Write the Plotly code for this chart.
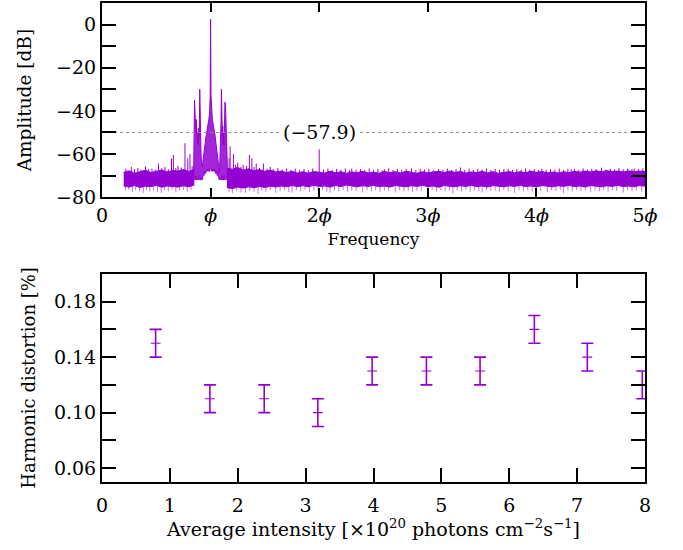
import plotly.graph_objects as go
from plotly.subplots import make_subplots

PURPLE = "rgb(148,0,211)"
PURPLE_LIGHT = "rgba(148,0,211,0.55)"
FONT = "DejaVu Serif"

# ---------------- Top panel: spectrum (frequency in units of phi, amplitude in dB)
floor_left_x = [0.20, 0.25, 0.30, 0.35, 0.40, 0.45, 0.50, 0.55, 0.60, 0.65, 0.70, 0.75, 0.80, 0.85]
floor_left_hi = [-68.5, -67.8, -68.9, -68.2, -67.5, -68.6, -68.0, -67.4, -68.3, -67.6, -67.9, -67.2, -68.1, -67.0]
floor_left_lo = [-74.8, -75.3, -74.6, -75.5, -74.9, -75.1, -74.5, -75.4, -74.8, -75.0, -75.3, -74.7, -75.2, -74.3]

floor_right_x = [1.15, 1.20, 1.25, 1.30, 1.35, 1.40, 1.45, 1.50, 1.55, 1.60,
                 1.65, 1.70, 1.75, 1.80, 1.85, 1.90, 1.95, 2.00, 2.05, 2.10,
                 2.15, 2.20, 2.25, 2.30, 2.35, 2.40, 2.45, 2.50, 2.55, 2.60,
                 2.65, 2.70, 2.75, 2.80, 2.85, 2.90, 2.95, 3.00, 3.05, 3.10,
                 3.15, 3.20, 3.25, 3.30, 3.35, 3.40, 3.45, 3.50, 3.55, 3.60,
                 3.65, 3.70, 3.75, 3.80, 3.85, 3.90, 3.95, 4.00, 4.05, 4.10,
                 4.15, 4.20, 4.25, 4.30, 4.35, 4.40, 4.45, 4.50, 4.55, 4.60,
                 4.65, 4.70, 4.75, 4.80, 4.85, 4.90, 4.95, 5.00]
floor_right_hi = [-66.5, -67.0, -66.2, -67.5, -66.8, -67.8, -67.2, -68.0, -67.4, -68.3,
                  -67.9, -68.6, -68.0, -68.8, -68.2, -68.9, -68.1, -68.5, -68.8, -68.0,
                  -68.7, -68.2, -68.9, -68.3, -68.6, -68.0, -68.8, -68.4, -68.9, -68.1,
                  -68.6, -68.2, -68.8, -68.0, -68.5, -68.9, -68.2, -68.7, -68.3, -68.0,
                  -68.6, -67.9, -68.5, -68.1, -68.8, -68.3, -68.6, -68.0, -68.7, -68.2,
                  -68.9, -68.4, -68.1, -68.7, -68.2, -68.6, -68.0, -68.5, -68.1, -68.7,
                  -68.3, -68.8, -68.2, -68.6, -68.0, -68.4, -67.9, -68.3, -67.8, -68.2,
                  -67.7, -68.1, -67.9, -68.3, -67.8, -68.2, -67.9, -68.1]
floor_right_lo = [-75.6, -76.0, -75.3, -75.8, -75.2, -75.6, -75.0, -75.5, -74.9, -75.3,
                  -74.8, -75.2, -74.6, -75.1, -74.7, -75.2, -74.5, -75.0, -74.8, -75.3,
                  -74.6, -75.1, -74.4, -74.9, -75.2, -74.7, -75.0, -74.5, -75.1, -74.8,
                  -75.3, -74.6, -74.9, -75.2, -74.7, -75.0, -74.5, -75.1, -74.8, -75.4,
                  -74.6, -74.9, -75.2, -74.7, -75.0, -74.5, -75.1, -74.8, -75.3, -74.6,
                  -74.9, -75.2, -74.7, -75.0, -74.5, -75.1, -74.8, -75.2, -74.6, -74.9,
                  -75.2, -74.7, -75.0, -74.5, -75.1, -74.8, -75.3, -74.6, -74.9, -75.2,
                  -74.7, -75.0, -74.5, -75.1, -74.8, -75.2, -74.6, -74.9]

# spikes above the noise floor (frequency, amplitude)
spikes_up = [(0.22, -66.8), (0.27, -66.0), (0.30, -67.0), (0.33, -66.5), (0.36, -67.2), (0.40, -65.7),
             (0.43, -66.9), (0.46, -66.8), (0.49, -67.1), (0.52, -64.4), (0.55, -66.6), (0.58, -66.0),
             (0.61, -67.0), (0.64, -62.0), (0.657, -60.4), (0.68, -66.5), (0.70, -65.5), (0.73, -66.2),
             (0.764, -55.0), (0.79, -62.0), (0.81, -60.0), (0.83, -65.5),
             (1.17, -62.0), (1.18, -56.5), (1.21, -60.0), (1.23, -65.0), (1.25, -64.0), (1.28, -66.0),
             (1.30, -65.0), (1.33, -65.5), (1.357, -60.4), (1.38, -62.0), (1.40, -66.0), (1.42, -64.4),
             (1.45, -66.5), (1.486, -64.4), (1.52, -66.8), (1.55, -66.0), (1.58, -67.0), (1.62, -66.5),
             (1.66, -67.2), (1.70, -66.6), (1.74, -67.3), (1.78, -66.8), (1.82, -67.4), (1.86, -66.9),
             (1.90, -67.5), (1.94, -66.7), (2.00, -57.9), (2.04, -67.2), (2.08, -66.8), (2.12, -67.4),
             (2.16, -66.9), (2.20, -67.3), (2.24, -66.7), (2.28, -67.5), (2.30, -66.8), (2.34, -67.2),
             (2.38, -66.9), (2.42, -67.4), (2.46, -66.7), (2.50, -67.3), (2.54, -66.9), (2.58, -67.5),
             (2.60, -67.0), (2.64, -66.6), (2.68, -67.4), (2.72, -66.9), (2.76, -67.3), (2.80, -66.8),
             (2.85, -66.7), (2.89, -67.4), (2.93, -66.9), (2.97, -67.2), (3.01, -66.8), (3.05, -67.5),
             (3.10, -66.9), (3.14, -67.3), (3.18, -66.8), (3.22, -67.4), (3.26, -66.9), (3.30, -66.2),
             (3.34, -67.3), (3.38, -66.8), (3.42, -67.4), (3.46, -66.9), (3.50, -67.2), (3.54, -66.7),
             (3.58, -67.4), (3.62, -66.9), (3.66, -67.3), (3.70, -67.0), (3.74, -66.8), (3.78, -67.4),
             (3.82, -66.9), (3.86, -67.3), (3.90, -66.7), (3.94, -67.2), (3.98, -66.9), (4.02, -67.4),
             (4.05, -66.8), (4.09, -67.3), (4.13, -66.9), (4.17, -67.2), (4.21, -66.7), (4.25, -67.4),
             (4.29, -66.8), (4.32, -67.1), (4.35, -66.9), (4.39, -67.3), (4.43, -66.7), (4.47, -67.2),
             (4.51, -66.8), (4.55, -67.0), (4.60, -66.3), (4.64, -67.2), (4.68, -66.8), (4.72, -67.0),
             (4.76, -66.6), (4.80, -67.1), (4.84, -66.7), (4.88, -67.0), (4.90, -66.7), (4.94, -66.9),
             (4.98, -66.6)]
# spikes below the noise floor
spikes_down = [(0.215, -77.0), (0.245, -76.5), (0.28, -77.6), (0.31, -76.8), (0.345, -77.2), (0.38, -78.0),
               (0.41, -76.6), (0.44, -77.4), (0.475, -76.9), (0.51, -77.7), (0.545, -78.0), (0.575, -76.7),
               (0.61, -77.3), (0.645, -76.5), (0.68, -77.8), (0.715, -77.0), (0.75, -76.6), (0.785, -77.4),
               (0.82, -76.8),
               (1.17, -77.5), (1.20, -78.2), (1.24, -77.0), (1.28, -77.8), (1.32, -78.0), (1.36, -77.2),
               (1.40, -77.6), (1.437, -78.5), (1.47, -77.0), (1.51, -77.6), (1.55, -76.8), (1.60, -78.0),
               (1.64, -77.1), (1.68, -76.7), (1.72, -77.5), (1.75, -77.9), (1.79, -76.8), (1.83, -77.3),
               (1.87, -76.6), (1.91, -77.6), (1.95, -76.9), (1.99, -77.2), (2.03, -76.7), (2.07, -77.5),
               (2.10, -77.9), (2.14, -76.8), (2.18, -77.2), (2.22, -76.6), (2.26, -77.4), (2.30, -76.9),
               (2.34, -77.1), (2.40, -77.8), (2.44, -76.7), (2.48, -77.3), (2.52, -76.8), (2.56, -77.5),
               (2.60, -76.9), (2.64, -77.2), (2.70, -77.9), (2.74, -76.7), (2.78, -77.3), (2.82, -76.8),
               (2.86, -77.6), (2.90, -76.9), (2.94, -77.1), (3.00, -77.8), (3.04, -76.8), (3.08, -77.4),
               (3.12, -76.7), (3.16, -77.2), (3.20, -77.0), (3.23, -78.4), (3.27, -76.9), (3.31, -77.3),
               (3.35, -76.6), (3.39, -77.5), (3.43, -76.8), (3.47, -77.2), (3.50, -77.8), (3.54, -76.7),
               (3.58, -77.1), (3.62, -76.9), (3.66, -77.4), (3.70, -76.6), (3.74, -77.2), (3.80, -78.0),
               (3.84, -76.8), (3.88, -77.3), (3.92, -76.7), (3.96, -77.4), (4.00, -76.9), (4.04, -77.2),
               (4.10, -77.7), (4.14, -76.8), (4.18, -77.1), (4.22, -76.6), (4.25, -78.2), (4.29, -76.9),
               (4.33, -77.3), (4.37, -76.7), (4.41, -77.2), (4.45, -76.8), (4.50, -77.7), (4.54, -76.9),
               (4.58, -77.2), (4.62, -76.6), (4.66, -77.4), (4.70, -76.8), (4.74, -77.1), (4.80, -77.8),
               (4.84, -76.7), (4.88, -77.2), (4.92, -76.9), (4.97, -77.5)]
spike_up_base = -70.0
spike_down_base = -73.0

# central peak cluster around phi (upper and lower extent of the dense trace)
peak_x = [0.844, 0.848, 0.852, 0.856, 0.860, 0.864, 0.868, 0.872, 0.876, 0.880, 0.884, 0.888,
          0.892, 0.896, 0.900, 0.904, 0.908,
          0.912, 0.916, 0.920, 0.924, 0.928,
          0.932, 0.936, 0.940, 0.944, 0.948, 0.952, 0.956, 0.960, 0.964, 0.968, 0.972, 0.976,
          0.980, 0.984, 0.988, 0.992, 0.996, 1.000,
          1.004, 1.008, 1.012, 1.016, 1.020, 1.024, 1.028, 1.032, 1.036, 1.040, 1.044, 1.048,
          1.052, 1.056, 1.060, 1.064, 1.068,
          1.072, 1.076, 1.080, 1.084, 1.088, 1.092,
          1.096, 1.100, 1.104, 1.108, 1.112, 1.116, 1.120, 1.124, 1.128, 1.132, 1.136, 1.140,
          1.144, 1.148, 1.152, 1.156]
peak_top = [-69, -37, -35, -40, -45, -50, -44, -52, -48, -55, -50, -56,
            -48, -52, -30, -45, -55,
            -60, -64, -66, -66, -64,
            -62, -60, -58, -57, -56, -55, -53, -51, -50, -49, -48, -47,
            -45, -44, -42, -40, -33, 2.4,
            -33, -40, -42, -44, -45, -47, -48, -49, -50, -51, -53, -55,
            -56, -57, -58, -60, -62,
            -65, -68, -68, -66, -60, -55,
            -45, -30, -48, -52, -47, -55, -50, -56, -45, -36, -37, -42,
            -50, -46, -60, -69]
peak_low = [-71, -72, -71, -72, -70, -72, -71, -72, -70, -72, -71, -72,
            -70, -71, -72, -71, -72,
            -72, -72, -71, -72, -71,
            -70, -69, -70, -68, -69, -68, -69, -68, -67, -68, -67, -68,
            -67, -68, -67, -68, -67, -66,
            -67, -68, -67, -68, -67, -68, -67, -68, -67, -68, -69, -68,
            -69, -68, -70, -69, -70,
            -71, -72, -72, -71, -72, -72,
            -71, -72, -70, -72, -71, -72, -70, -72, -71, -72, -70, -71,
            -72, -71, -72, -71]

ref_level = -50
ref_label = "(\u221257.9)"
ref_label_x = 2.0

freq_ticks = [0, 1, 2, 3, 4, 5]
freq_ticktext = ["0", "<i>\u03d5</i>", "2<i>\u03d5</i>", "3<i>\u03d5</i>", "4<i>\u03d5</i>", "5<i>\u03d5</i>"]

# ---------------- Bottom panel: harmonic distortion vs intensity
intensity = [0.79, 1.59, 2.39, 3.18, 3.98, 4.78, 5.57, 6.37, 7.15, 7.96]
distortion = [0.15, 0.11, 0.11, 0.10, 0.13, 0.13, 0.13, 0.16, 0.14, 0.12]
distortion_err = [0.01, 0.01, 0.01, 0.01, 0.01, 0.01, 0.01, 0.01, 0.01, 0.01]

fig = make_subplots(rows=2, cols=1)

for fx, lo, hi in [(floor_left_x, floor_left_lo, floor_left_hi),
                   (floor_right_x, floor_right_lo, floor_right_hi)]:
    fig.add_trace(go.Scatter(x=fx, y=lo, mode="lines", line=dict(color=PURPLE, width=1),
                             showlegend=False, hoverinfo="skip"), row=1, col=1)
    fig.add_trace(go.Scatter(x=fx, y=hi, mode="lines", line=dict(color=PURPLE, width=1),
                             fill="tonexty", fillcolor=PURPLE,
                             showlegend=False, hoverinfo="skip"), row=1, col=1)

def spike_path(pairs, base):
    px, py = [], []
    for a, b in pairs:
        px += [a, a, None]
        py += [base, b, None]
    return px, py

dx, dy = spike_path(spikes_down, spike_down_base)
fig.add_trace(go.Scatter(x=dx, y=dy, mode="lines", line=dict(color=PURPLE_LIGHT, width=1),
                         showlegend=False, hoverinfo="skip"), row=1, col=1)
ux, uy = spike_path(spikes_up, spike_up_base)
fig.add_trace(go.Scatter(x=ux, y=uy, mode="lines", line=dict(color=PURPLE, width=1),
                         showlegend=False, hoverinfo="skip"), row=1, col=1)

fig.add_trace(go.Scatter(x=peak_x, y=peak_low, mode="lines", line=dict(color=PURPLE, width=0.8),
                         showlegend=False, hoverinfo="skip"), row=1, col=1)
fig.add_trace(go.Scatter(x=peak_x, y=peak_top, mode="lines", line=dict(color=PURPLE, width=1),
                         fill="tonexty", fillcolor="rgba(148,0,211,0.85)",
                         showlegend=False), row=1, col=1)

fig.add_trace(go.Scatter(x=[0, 5], y=[ref_level, ref_level], mode="lines",
                         line=dict(color="rgb(140,140,140)", width=1, dash="dot"),
                         showlegend=False, hoverinfo="skip"), row=1, col=1)
fig.add_annotation(x=ref_label_x, y=ref_level, xref="x", yref="y", text=ref_label,
                   showarrow=False, bgcolor="white", font=dict(family=FONT, size=19, color="black"),
                   borderpad=1)

fig.add_trace(go.Scatter(x=intensity, y=distortion, mode="markers",
                         marker=dict(symbol="line-ew", size=7, color=PURPLE,
                                     line=dict(color=PURPLE, width=1.2)),
                         error_y=dict(type="data", array=distortion_err, visible=True,
                                      color=PURPLE, thickness=1.6, width=6),
                         showlegend=False), row=2, col=1)

axis_common = dict(showline=True, linecolor="black", linewidth=2, mirror="allticks",
                   ticks="inside", tickcolor="black", tickwidth=1.5, showgrid=False,
                   zeroline=False, tickfont=dict(family=FONT, size=19, color="black"))

fig.update_xaxes(range=[0, 5], tickvals=freq_ticks, ticktext=freq_ticktext, ticklen=9,
                 title=dict(text="Frequency", font=dict(family=FONT, size=17, color="black"),
                            standoff=8),
                 **axis_common, row=1, col=1)
fig.update_yaxes(range=[-80, 10], tickvals=[-80, -60, -40, -20, 0], ticklen=14,
                 minor=dict(dtick=10, ticklen=14, tickcolor="black", tickwidth=1.5, ticks="inside"),
                 title=dict(text="Amplitude [dB]", font=dict(family=FONT, size=18.5, color="black"),
                            standoff=20),
                 **axis_common, row=1, col=1)
fig.update_xaxes(range=[0, 8], dtick=1, tick0=0, ticklen=14, ticklabelstandoff=5,
                 title=dict(text="Average intensity [\u00d710<sup>20</sup> photons cm<sup>\u22122</sup>s<sup>\u22121</sup>]",
                            font=dict(family=FONT, size=19, color="black"), standoff=4),
                 **axis_common, row=2, col=1)
fig.update_yaxes(range=[0.05, 0.2], tickvals=[0.06, 0.10, 0.14, 0.18], ticktext=["0.06", "0.10", "0.14", "0.18"],
                 ticklen=14,
                 minor=dict(tickvals=[0.08, 0.12, 0.16], ticklen=14, tickcolor="black", tickwidth=1.5, ticks="inside"),
                 title=dict(text="Harmonic distortion [%]", font=dict(family=FONT, size=18, color="black"),
                            standoff=14),
                 **axis_common, row=2, col=1)

fig.update_layout(
    width=683, height=550,
    margin=dict(l=102, r=38, t=1, b=68),
    plot_bgcolor="white", paper_bgcolor="white",
    font=dict(family=FONT, size=19, color="black"),
    xaxis=dict(domain=[0, 1]), xaxis2=dict(domain=[0, 1]),
    yaxis=dict(domain=[0.5946, 1.0]), yaxis2=dict(domain=[0.0, 0.4345]),
    showlegend=False,
)

fig.write_html("out.html", config={"displayModeBar": False},
               post_script="document.body.style.margin='0px';")
